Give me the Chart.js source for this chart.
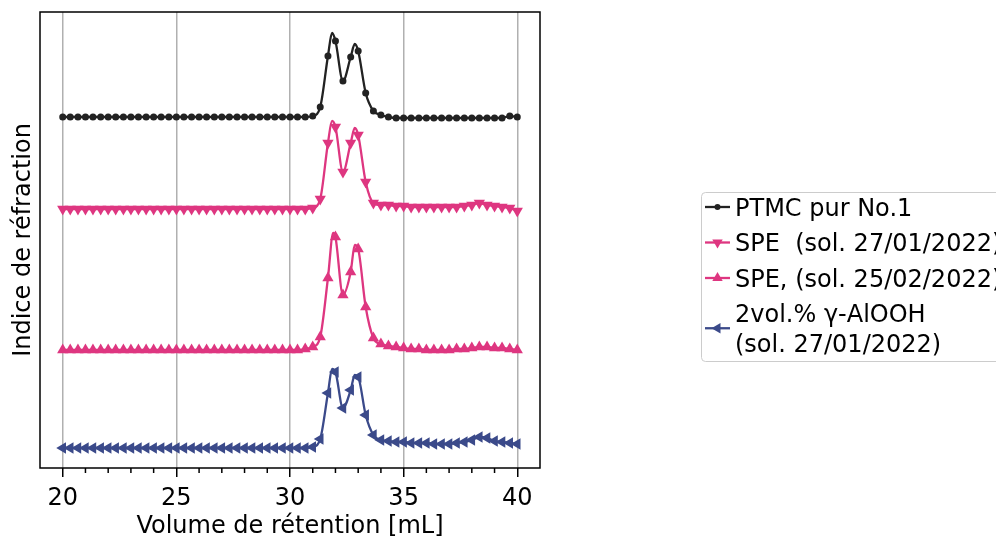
<!DOCTYPE html>
<html>
<head>
<meta charset="utf-8">
<script src="https://cdn.jsdelivr.net/npm/chart.js@4.4.1/dist/chart.umd.min.js"></script>
<style>
  html, body { margin: 0; padding: 0; background: #fff; }
</style>
</head>
<body>
<canvas id="chromato" width="996" height="539"></canvas>
<script>
// volume de rétention (mL), un point tous les 1/3 mL
const volume = [
  20, 20.33, 20.67, 21, 21.33, 21.67, 22, 22.33, 22.67, 23,
  23.33, 23.67, 24, 24.33, 24.67, 25, 25.33, 25.67, 26, 26.33,
  26.67, 27, 27.33, 27.67, 28, 28.33, 28.67, 29, 29.33, 29.67,
  30, 30.33, 30.67, 31, 31.33, 31.67, 32, 32.33, 32.67, 33,
  33.33, 33.67, 34, 34.33, 34.67, 35, 35.33, 35.67, 36, 36.33,
  36.67, 37, 37.33, 37.67, 38, 38.33, 38.67, 39, 39.33, 39.67,
  40
];

const ptmc = [
  3.51, 3.51, 3.51, 3.51, 3.51, 3.51, 3.51, 3.51, 3.51, 3.51,
  3.51, 3.51, 3.51, 3.51, 3.51, 3.51, 3.51, 3.51, 3.51, 3.51,
  3.51, 3.51, 3.51, 3.51, 3.51, 3.51, 3.51, 3.51, 3.51, 3.51,
  3.51, 3.51, 3.51, 3.52, 3.61, 4.12, 4.27, 3.87, 4.11, 4.17,
  3.75, 3.57, 3.53, 3.51, 3.50, 3.50, 3.50, 3.50, 3.50, 3.50,
  3.50, 3.50, 3.50, 3.50, 3.50, 3.50, 3.50, 3.50, 3.50, 3.52,
  3.51
];

const speJan = [
  2.59, 2.59, 2.59, 2.59, 2.59, 2.59, 2.59, 2.59, 2.59, 2.59,
  2.59, 2.59, 2.59, 2.59, 2.59, 2.59, 2.59, 2.59, 2.59, 2.59,
  2.59, 2.59, 2.59, 2.59, 2.59, 2.59, 2.59, 2.59, 2.59, 2.59,
  2.59, 2.59, 2.59, 2.60, 2.69, 3.25, 3.41, 2.96, 3.25, 3.33,
  2.86, 2.65, 2.63, 2.63, 2.62, 2.62, 2.61, 2.61, 2.61, 2.61,
  2.61, 2.61, 2.61, 2.62, 2.63, 2.65, 2.63, 2.62, 2.61, 2.60,
  2.57
];

const speFeb = [
  1.18, 1.18, 1.18, 1.18, 1.18, 1.18, 1.18, 1.18, 1.18, 1.18,
  1.18, 1.18, 1.18, 1.18, 1.18, 1.18, 1.18, 1.18, 1.18, 1.18,
  1.18, 1.18, 1.18, 1.18, 1.18, 1.18, 1.18, 1.18, 1.18, 1.18,
  1.18, 1.18, 1.19, 1.21, 1.31, 1.90, 2.31, 1.73, 1.96, 2.19,
  1.61, 1.30, 1.24, 1.22, 1.21, 1.20, 1.19, 1.19, 1.18, 1.18,
  1.18, 1.18, 1.19, 1.19, 1.20, 1.21, 1.21, 1.20, 1.20, 1.19,
  1.18
];

const alooh = [
  0.20, 0.20, 0.20, 0.20, 0.20, 0.20, 0.20, 0.20, 0.20, 0.20,
  0.20, 0.20, 0.20, 0.20, 0.20, 0.20, 0.20, 0.20, 0.20, 0.20,
  0.20, 0.20, 0.20, 0.20, 0.20, 0.20, 0.20, 0.20, 0.20, 0.20,
  0.20, 0.20, 0.20, 0.21, 0.29, 0.75, 0.96, 0.60, 0.78, 0.91,
  0.53, 0.33, 0.28, 0.27, 0.26, 0.26, 0.25, 0.25, 0.25, 0.24,
  0.24, 0.24, 0.25, 0.26, 0.28, 0.31, 0.30, 0.27, 0.26, 0.25,
  0.24
];

// sommets des pics (courbe sans marqueur)
const ptmcPicX = [31.85, 32.85];
const ptmcPicY = [4.35, 4.24];
const speJanPicX = [31.85, 32.85];
const speJanPicY = [3.47, 3.40];
const speFebPicX = [31.9, 32.85];
const speFebPicY = [2.35, 2.23];
const aloohPicX = [31.85, 32.85];
const aloohPicY = [0.99, 0.93];

const labels = [
  'PTMC pur No.1',
  'SPE  (sol. 27/01/2022)',
  'SPE, (sol. 25/02/2022)',
  '2vol.% γ-AlOOH\n(sol. 27/01/2022)'
];

const NOIR = '#222222';
const ROSE = '#de3680';
const BLEU = '#3b4a8a';
const FONT = "'DejaVu Sans', sans-serif";

function serie(ys, picX, picY) {
  const pts = volume.map((v, i) => ({ x: v, y: ys[i], m: true }));
  picX.forEach((v, i) => pts.push({ x: v, y: picY[i], m: false }));
  return pts.sort((a, b) => a.x - b.x);
}

function jeu(label, pts, color, style, rot, r) {
  return {
    label: label,
    data: pts,
    borderColor: color,
    backgroundColor: color,
    borderWidth: 2.3,
    pointStyle: style,
    rotation: rot,
    pointRadius: c => (c.raw && c.raw.m ? r : 0),
    pointBorderWidth: 0,
    cubicInterpolationMode: 'monotone',
    fill: false
  };
}

function triangle(ctx, x, y, r, rot) {
  let a = rot * Math.PI / 180;
  ctx.beginPath();
  for (let k = 0; k < 3; k++) {
    const px = x + Math.sin(a) * r, py = y - Math.cos(a) * r;
    k === 0 ? ctx.moveTo(px, py) : ctx.lineTo(px, py);
    a += 2 * Math.PI / 3;
  }
  ctx.closePath();
  ctx.fill();
}

const cadre = {
  id: 'cadre',
  afterDraw(chart) {
    const { ctx, chartArea: a, scales } = chart;
    ctx.save();
    ctx.strokeStyle = '#000';
    ctx.lineWidth = 1.5;
    ctx.strokeRect(a.left, a.top, a.right - a.left, a.bottom - a.top);
    // petites graduations
    for (let v = 21; v < 40; v++) {
      if (v % 5 === 0) continue;
      const x = scales.x.getPixelForValue(v);
      ctx.beginPath();
      ctx.moveTo(x, a.bottom);
      ctx.lineTo(x, a.bottom + 5);
      ctx.stroke();
    }
    ctx.restore();
  }
};

const legende = {
  id: 'legende',
  afterDraw(chart) {
    const ctx = chart.ctx;
    ctx.save();
    ctx.fillStyle = 'rgba(255,255,255,0.8)';
    ctx.strokeStyle = '#cccccc';
    ctx.lineWidth = 1;
    ctx.beginPath();
    ctx.roundRect(701.5, 192.5, 330, 169, 4);
    ctx.fill();
    ctx.stroke();

    ctx.font = '24px ' + FONT;
    ctx.textBaseline = 'alphabetic';
    let y = 215.5;
    chart.data.datasets.forEach(ds => {
      const lignes = ds.label.split('\n');
      const yh = y + (lignes.length - 1) * 29.5 / 2 - 8.5;
      ctx.strokeStyle = ds.borderColor;
      ctx.fillStyle = ds.borderColor;
      ctx.lineWidth = 2.3;
      ctx.beginPath();
      ctx.moveTo(705, yh);
      ctx.lineTo(730, yh);
      ctx.stroke();
      if (ds.pointStyle === 'circle') {
        ctx.beginPath();
        ctx.arc(717.5, yh, 3, 0, 2 * Math.PI);
        ctx.fill();
      } else {
        triangle(ctx, 717.5, yh, 6, ds.rotation);
      }
      ctx.fillStyle = '#000';
      lignes.forEach((t, k) => {
        ctx.fillText(t, 735, y);
        if (k < lignes.length - 1) y += 29.5;
      });
      y += 35.5;
    });
    ctx.restore();
  }
};

const estMajeur = v => v % 5 === 0 && v >= 20 && v <= 40;

new Chart(document.getElementById('chromato'), {
  type: 'line',
  data: {
    datasets: [
      jeu(labels[0], serie(ptmc, ptmcPicX, ptmcPicY), NOIR, 'circle', 0, 3.5),
      jeu(labels[1], serie(speJan, speJanPicX, speJanPicY), ROSE, 'triangle', 180, 6.5),
      jeu(labels[2], serie(speFeb, speFebPicX, speFebPicY), ROSE, 'triangle', 0, 6.5),
      jeu(labels[3], serie(alooh, aloohPicX, aloohPicY), BLEU, 'triangle', 270, 6.5)
    ]
  },
  options: {
    responsive: false,
    animation: false,
    events: [],
    layout: { padding: { top: 12, right: 456, bottom: 0, left: 0 } },
    plugins: { legend: { display: false }, tooltip: { enabled: false } },
    scales: {
      x: {
        type: 'linear',
        min: 19,
        max: 41,
        afterFit: s => { s.height = 71; },
        border: { display: false },
        grid: {
          color: c => (estMajeur(c.tick.value) ? '#b0b0b0' : 'rgba(0,0,0,0)'),
          lineWidth: 1.5,
          tickColor: c => (estMajeur(c.tick.value) ? '#000' : 'rgba(0,0,0,0)'),
          tickWidth: 1.5,
          tickLength: 9
        },
        ticks: {
          stepSize: 1,
          autoSkip: false,
          maxRotation: 0,
          padding: 7,
          color: '#000',
          font: { family: FONT, size: 24 },
          callback: v => (estMajeur(v) ? String(v) : '')
        },
        title: {
          display: true,
          text: 'Volume de rétention [mL]',
          color: '#000',
          font: { family: FONT, size: 24, lineHeight: 1 },
          padding: { top: 0, bottom: 0 }
        }
      },
      y: {
        min: 0,
        max: 4.56,
        afterFit: s => { s.width = 40; },
        border: { display: false },
        grid: { display: false },
        ticks: { display: false },
        title: {
          display: true,
          text: 'Indice de réfraction',
          color: '#000',
          font: { family: FONT, size: 24, lineHeight: 1 },
          padding: { top: 12, bottom: 0 }
        }
      }
    }
  },
  plugins: [cadre, legende]
});
</script>
</body>
</html>
